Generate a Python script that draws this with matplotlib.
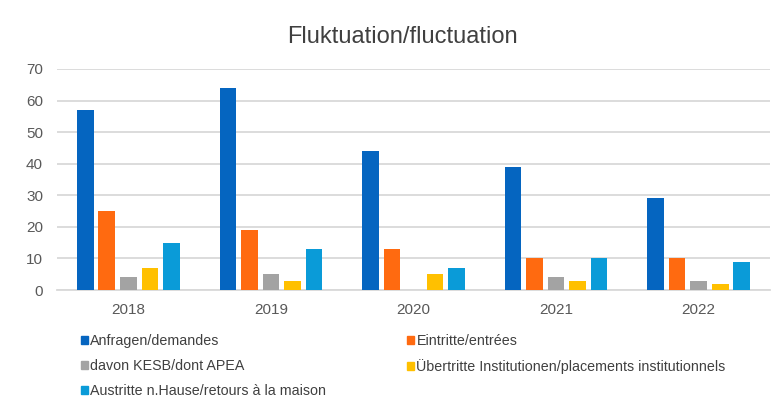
import numpy as np
import matplotlib.pyplot as plt
from matplotlib.patches import Patch

# données
jahre = ['2018', '2019', '2020', '2021', '2022']
anfragen = [57, 64, 44, 39, 29]
eintritte = [25, 19, 13, 10, 10]
davon_kesb = [4, 5, 0, 4, 3]
uebertritte = [7, 3, 5, 3, 2]
austritte = [15, 13, 7, 10, 9]

noms = ['Anfragen/demandes', 'Eintritte/entrées', 'davon KESB/dont APEA',
        'Übertritte Institutionen/placements institutionnels',
        'Austritte n.Hause/retours à la maison']
couleurs = ['#0565C0', '#FF6A10', '#A3A3A3', '#FFC000', '#0A9BD8']
series = [anfragen, eintritte, davon_kesb, uebertritte, austritte]

plt.rcParams['font.family'] = ['Liberation Sans', 'DejaVu Sans']

fig = plt.figure(figsize=(7.76, 4.01), dpi=100)
ax = fig.add_axes([57/776, 1-290/401, (770-57)/776, (290-69)/401])

x = np.arange(len(jahre))
pas = 0.151
larg = 0.116
for k, (vals, col, nom) in enumerate(zip(series, couleurs, noms)):
    ax.bar(x + (k-2)*pas, vals, width=larg, color=col, label=nom, zorder=3)

ax.set_xlim(-0.5, 4.5)
ax.set_ylim(0, 70)
ax.set_yticks(range(0, 71, 10))
ax.set_xticks(x)
ax.set_xticklabels(jahre)
ax.grid(axis='y', color='#D9D9D9', linewidth=1.3, zorder=0)
for s in ['top', 'right', 'left']:
    ax.spines[s].set_visible(False)
ax.spines['bottom'].set_color('#D9D9D9')
ax.spines['bottom'].set_linewidth(1.3)
ax.tick_params(axis='both', length=0, labelsize=11, colors='#595959')
ax.tick_params(axis='y', pad=10)
ax.tick_params(axis='x', pad=9.5)

fig.text(402/776, 1-37/401, 'Fluktuation/fluctuation', ha='center', va='center',
         fontsize=17, color='#404040')

# légende en deux colonnes
h = [Patch(color=c) for c in couleurs]
kw = dict(frameon=False, fontsize=10.3, handlelength=0.45, handleheight=0.45,
          handletextpad=0.2, labelspacing=0.76, borderpad=0, labelcolor='#404040')
fig.legend([h[0], h[2], h[4]], [noms[0], noms[2], noms[4]], loc='upper left',
           bbox_to_anchor=(74/776, 1-327/401), **kw)
fig.legend([h[1], h[3]], [noms[1], noms[3]], loc='upper left',
           bbox_to_anchor=(400/776, 1-327/401), **kw)

fig.savefig('out.png', dpi=100)
